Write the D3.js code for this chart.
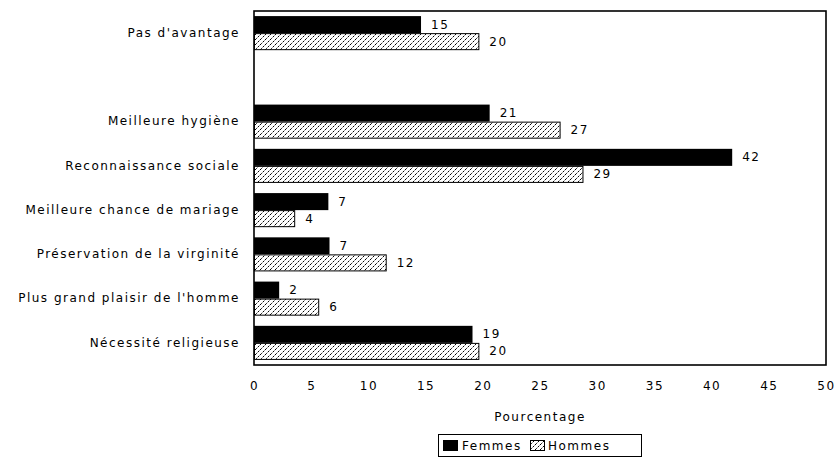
<!DOCTYPE html>
<html>
<head>
<meta charset="utf-8">
<script src="https://cdn.jsdelivr.net/npm/d3@7"></script>
<style>
  html, body { margin: 0; padding: 0; background: #fff; }
  svg { display: block; }
  text { font-family: "DejaVu Sans", sans-serif; font-size: 12px; letter-spacing: 1.5px; fill: #000; }
</style>
</head>
<body>
<svg id="chart" width="835" height="464"></svg>
<script>
// ---- Data ----
const categories = [
  "Pas d'avantage",
  "",
  "Meilleure hygiène",
  "Reconnaissance sociale",
  "Meilleure chance de mariage",
  "Préservation de la virginité",
  "Plus grand plaisir de l'homme",
  "Nécessité religieuse"
];
const seriesNames = ["Femmes", "Hommes"];
const femmes = [14.6, null, 20.6, 41.8, 6.5, 6.6, 2.2, 19.1];
const hommes = [19.7, null, 26.8, 28.8, 3.6, 11.6, 5.7, 19.7];
const xTicks = [0, 5, 10, 15, 20, 25, 30, 35, 40, 45, 50];
const xTitle = "Pourcentage";

// ---- Layout ----
const svg = d3.select("#chart");
const L = 254, R = 826, T = 11, B = 365;

const x = d3.scaleLinear().domain([0, 50]).range([L, R]);
const y = d3.scaleBand().domain(categories).range([T, B]).paddingInner(0.23).paddingOuter(0.115);
const ySub = d3.scaleBand().domain(seriesNames).range([0, y.bandwidth()]);

// hatch pattern
const defs = svg.append("defs");
const pat = defs.append("pattern")
  .attr("id", "hatch").attr("patternUnits", "userSpaceOnUse")
  .attr("width", 5).attr("height", 5);
pat.append("rect").attr("width", 5).attr("height", 5).attr("fill", "#fff");
pat.append("path")
  .attr("d", "M0,5 L5,0 M-1,1 L1,-1 M4,6 L6,4")
  .attr("stroke", "#000").attr("stroke-width", 1)
  .attr("stroke-dasharray", "2.5,1.2");

// frame
svg.append("rect")
  .attr("x", L).attr("y", T).attr("width", R - L).attr("height", B - T)
  .attr("fill", "none").attr("stroke", "#000").attr("stroke-width", 1.6);

// bars
const rows = categories.map((c, i) => ({ c, vals: [
  { s: "Femmes", v: femmes[i] },
  { s: "Hommes", v: hommes[i] }
]}));

const g = svg.append("g");
rows.forEach(r => {
  r.vals.forEach(d => {
    if (d.v == null) return;
    const yy = y(r.c) + ySub(d.s);
    const h = ySub.bandwidth();
    if (d.s === "Femmes") {
      g.append("rect").attr("x", x(0)).attr("y", yy)
        .attr("width", x(d.v) - x(0)).attr("height", h)
        .attr("fill", "#000");
    } else {
      g.append("rect").attr("x", x(0) + 0.5).attr("y", yy + 0.5)
        .attr("width", x(d.v) - x(0) - 1).attr("height", h - 1)
        .attr("fill", "url(#hatch)").attr("stroke", "#000").attr("stroke-width", 1);
    }
    g.append("text")
      .attr("x", x(d.v) + 10).attr("y", yy + h / 2)
      .attr("dominant-baseline", "central")
      .text(Math.round(d.v));
  });
});

// x axis (labels only)
const xAxis = svg.append("g").attr("transform", `translate(0,${B})`)
  .call(d3.axisBottom(x).tickValues(xTicks).tickSize(0).tickPadding(16));
xAxis.select(".domain").remove();
xAxis.selectAll("text").style("font-family", "DejaVu Sans, sans-serif").style("font-size", "12px").attr("fill", "#000");

// y axis (labels only)
const yAxis = svg.append("g").attr("transform", `translate(${L},0)`)
  .call(d3.axisLeft(y).tickSize(0).tickPadding(14));
yAxis.select(".domain").remove();
yAxis.selectAll("text").style("font-family", "DejaVu Sans, sans-serif").style("font-size", "12px").attr("fill", "#000");

// x title
svg.append("text").attr("x", (L + R) / 2).attr("y", 417)
  .attr("text-anchor", "middle").attr("dominant-baseline", "central")
  .text(xTitle);

// legend
const lg = svg.append("g");
lg.append("rect").attr("x", 438.5).attr("y", 434.5).attr("width", 203).attr("height", 22)
  .attr("fill", "#fff").attr("stroke", "#000").attr("stroke-width", 1);
lg.append("rect").attr("x", 443).attr("y", 440).attr("width", 15).attr("height", 11).attr("fill", "#000");
lg.append("text").attr("x", 462).attr("y", 446).attr("dominant-baseline", "central").text(seriesNames[0]);
lg.append("rect").attr("x", 530.5).attr("y", 440.5).attr("width", 14).attr("height", 10)
  .attr("fill", "url(#hatch)").attr("stroke", "#000").attr("stroke-width", 1);
lg.append("text").attr("x", 548).attr("y", 446).attr("dominant-baseline", "central").text(seriesNames[1]);
</script>
</body>
</html>
